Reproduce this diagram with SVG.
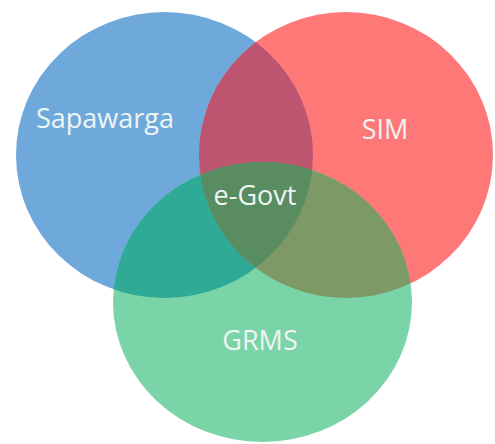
<svg xmlns="http://www.w3.org/2000/svg" width="495" height="444" viewBox="0 0 495 444">
  <style>
    .label { font-family: "Open Sans", "Noto Sans", "Liberation Sans", sans-serif; font-size: 27px; fill: #eef5f2; text-anchor: middle; }
  </style>
  <defs>
    <ellipse id="shapeBlue" cx="164.5" cy="155" rx="148.5" ry="143"/>
    <ellipse id="shapeRed" cx="346" cy="155" rx="147" ry="143"/>
    <ellipse id="shapeGreen" cx="262.5" cy="302" rx="149.5" ry="140"/>
    <clipPath id="clipBlue"><use href="#shapeBlue"/></clipPath>
    <clipPath id="clipRed"><use href="#shapeRed"/></clipPath>
    <clipPath id="clipGreen"><use href="#shapeGreen"/></clipPath>
  </defs>

  <rect width="495" height="444" fill="#ffffff"/>

  <!-- base sets -->
  <g id="sapawarga">
    <use href="#shapeBlue" fill="#6fa9dc"/>
  </g>
  <g id="sim">
    <use href="#shapeRed" fill="#ff7878"/>
  </g>
  <g id="grms">
    <use href="#shapeGreen" fill="#7bd3a8"/>
  </g>

  <!-- pairwise overlaps -->
  <g id="sapawarga-sim" clip-path="url(#clipBlue)">
    <use href="#shapeRed" fill="#bd5470"/>
  </g>
  <g id="sapawarga-grms" clip-path="url(#clipBlue)">
    <use href="#shapeGreen" fill="#2eaa96"/>
  </g>
  <g id="sim-grms" clip-path="url(#clipRed)">
    <use href="#shapeGreen" fill="#7d9a66"/>
  </g>

  <!-- triple overlap -->
  <g id="egovt" clip-path="url(#clipBlue)">
    <g clip-path="url(#clipRed)">
      <use href="#shapeGreen" fill="#5a8c62"/>
    </g>
  </g>

  <!-- labels -->
  <g id="labels">
    <text class="label" x="105" y="128">Sapawarga</text>
    <text class="label" x="385" y="139">SIM</text>
    <text class="label" x="255" y="205">e-Govt</text>
    <text class="label" x="260" y="350">GRMS</text>
  </g>
</svg>
